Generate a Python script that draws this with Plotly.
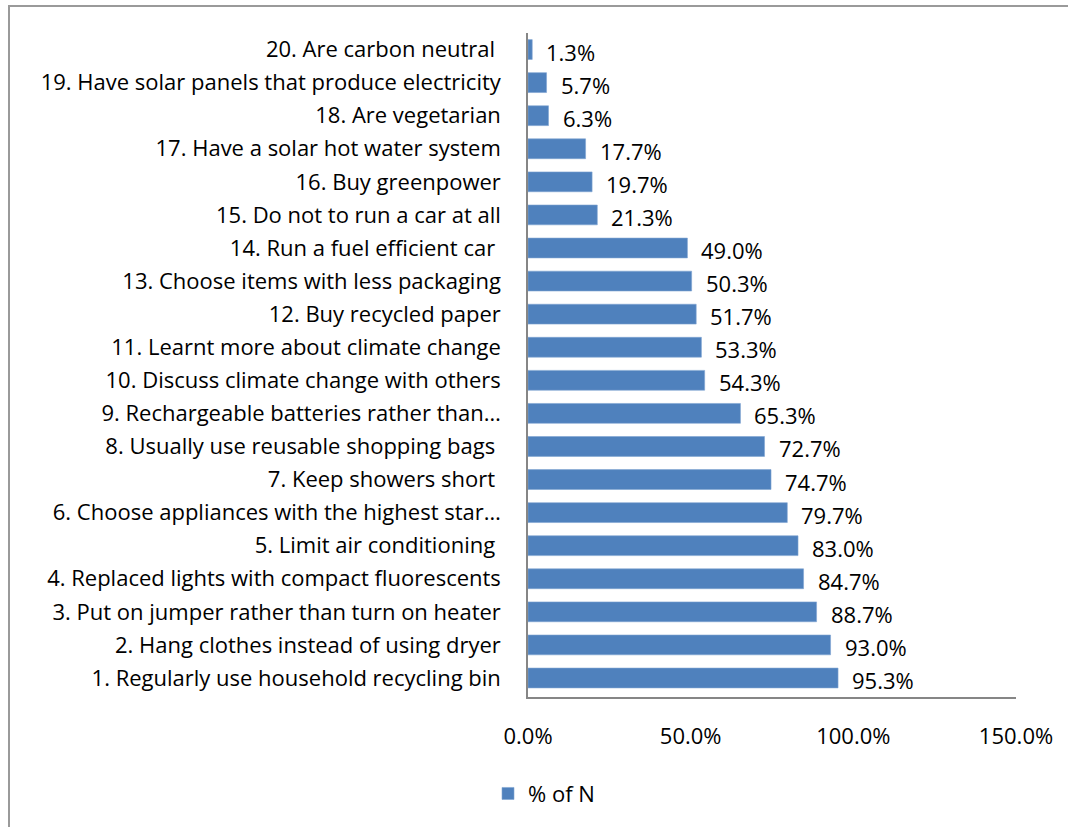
import plotly.graph_objects as go

# Survey items (bottom to top) and share of respondents
items = [
    "1. Regularly use household recycling bin",
    "2. Hang clothes instead of using dryer",
    "3. Put on jumper rather than turn on heater",
    "4. Replaced lights with compact fluorescents",
    "5. Limit air conditioning ",
    "6. Choose appliances with the highest star…",
    "7. Keep showers short ",
    "8. Usually use reusable shopping bags ",
    "9. Rechargeable batteries rather than…",
    "10. Discuss climate change with others",
    "11. Learnt more about climate change",
    "12. Buy recycled paper",
    "13. Choose items with less packaging",
    "14. Run a fuel efficient car ",
    "15. Do not to run a car at all",
    "16. Buy greenpower",
    "17. Have a solar hot water system",
    "18. Are vegetarian",
    "19. Have solar panels that produce electricity",
    "20. Are carbon neutral ",
]
percent = [95.3, 93.0, 88.7, 84.7, 83.0, 79.7, 74.7, 72.7, 65.3, 54.3,
           53.3, 51.7, 50.3, 49.0, 21.3, 19.7, 17.7, 6.3, 5.7, 1.3]
x_ticks = [0, 50, 100, 150]
x_tick_labels = ["0.0%", "50.0%", "100.0%", "150.0%"]
series_name = "% of N"

W, H = 1068, 827
L, R, T, B = 528, 52, 33, 127
FONT = "'Open Sans', Lato, sans-serif"
FS = 22
BAR = "#4F81BD"
AXIS = "#868686"

fig = go.Figure()
fig.add_trace(go.Bar(
    y=items, x=percent, orientation="h", name=series_name,
    marker=dict(color=BAR, line=dict(color="#7FA4D2", width=0.6)),
    showlegend=True,
))

# value labels just past each bar end
for name, v in zip(items, percent):
    fig.add_annotation(x=v, y=name, text=f"{v:.1f}%", showarrow=False,
                       xanchor="left", xshift=12, yshift=-2,
                       font=dict(family=FONT, size=FS, color="#000000"))

pw, ph = W - L - R, H - T - B


def px_x(px):
    return (px - L) / pw


def px_y(py):
    return (H - B - py) / ph


# outer chart frame
fig.add_shape(type="rect", xref="paper", yref="paper",
              x0=px_x(9), x1=px_x(W + 20), y0=px_y(H + 20), y1=px_y(6),
              line=dict(color="#9A9A9A", width=2), fillcolor="rgba(0,0,0,0)")

fig.update_layout(
    width=W, height=H,
    margin=dict(l=L, r=R, t=T, b=B, pad=0),
    paper_bgcolor="white", plot_bgcolor="white",
    bargap=0.4,
    font=dict(family=FONT, size=FS, color="#000000"),
    xaxis=dict(range=[0, 150], tickvals=x_ticks, ticktext=x_tick_labels,
               showgrid=False, zeroline=False, showline=True,
               linecolor=AXIS, linewidth=1.5, ticks="",
               ticklabelstandoff=19,
               tickfont=dict(family=FONT, size=FS, color="#000000")),
    yaxis=dict(showgrid=False, zeroline=False, showline=True,
               linecolor=AXIS, linewidth=1.5, ticks="",
               ticklabelstandoff=21,
               tickfont=dict(family=FONT, size=FS, color="#000000")),
    legend=dict(orientation="h", x=px_x(488), y=px_y(776),
                xanchor="left", yanchor="top",
                font=dict(family=FONT, size=FS, color="#000000"),
                bgcolor="rgba(0,0,0,0)"),
)

fig.write_html("out.html")
